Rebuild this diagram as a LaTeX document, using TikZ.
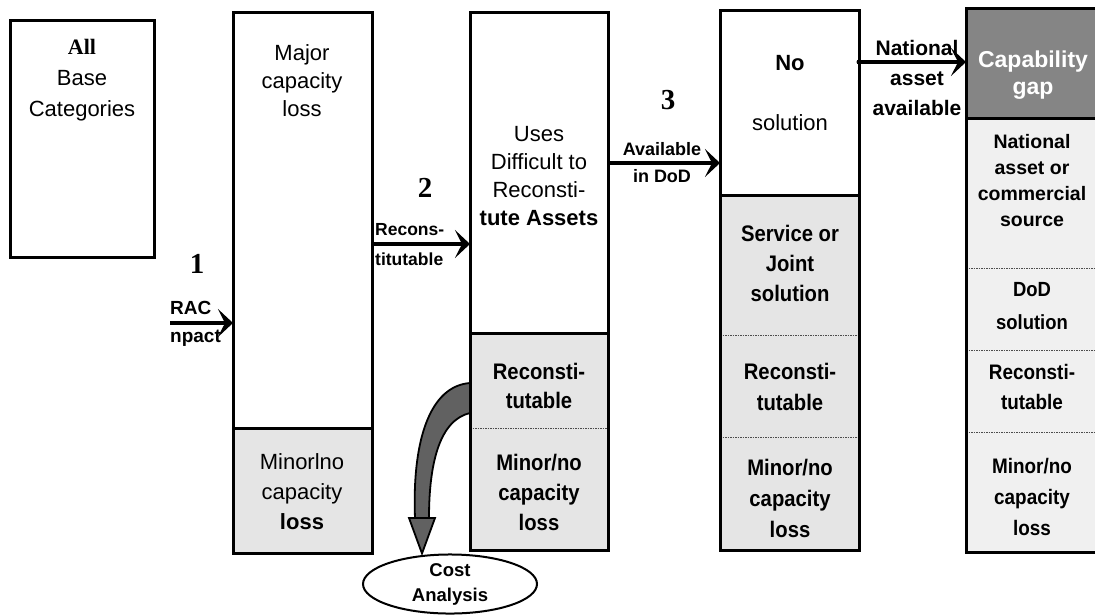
\documentclass[tikz,border=0pt]{standalone}
\usepackage{fontspec}
\setmainfont{Liberation Sans}
\newfontfamily\serifb{Liberation Serif}
\newfontfamily\bnar[FakeStretch=0.9]{Liberation Sans}
\usetikzlibrary{arrows.meta,shapes.geometric}
\newcommand\myfs[2]{\fontsize{#1}{#2}\selectfont}
\definecolor{lightg}{gray}{0.90}
\definecolor{paleg}{gray}{0.94}
\definecolor{darkg}{gray}{0.52}
\tikzset{
  frame/.style={draw=black, line width=3pt, fill=none, inner sep=0pt, outer sep=0pt, anchor=north west},
  sec/.style={draw=none, inner sep=0pt, outer sep=0pt, anchor=north west},
  solidsep/.style={line width=3pt},
  dotsep/.style={line width=1pt, black!70, dash pattern=on 1.5pt off 1pt},
  arr/.style={line width=4pt, -{Stealth[length=15pt,width=28pt,inset=7pt]}},
  reg/.style={font=\myfs{22}{28}, align=center, inner sep=0pt},
  bld/.style={font=\myfs{22.5}{30}\bnar\bfseries, align=center, inner sep=0pt},
  num/.style={font=\myfs{29}{30}\serifb\bfseries, inner sep=0pt},
  lbl/.style={font=\myfs{18}{27}\bfseries, align=center, inner sep=0pt},
}
\begin{document}
\begin{tikzpicture}[x=1pt,y=-1pt]
\useasboundingbox (0,0) rectangle (1095,614);
\clip (0,0) rectangle (1095,614);
\fill[white] (0,0) rectangle (1095,614);

% ---- section fills ----
\node[sec, fill=lightg, minimum width=139pt, minimum height=125pt] (c2b) at (233,428) {};
\node[sec, fill=lightg, minimum width=138pt, minimum height=217pt] (c3b) at (470,333) {};
\node[sec, fill=lightg, minimum width=139pt, minimum height=355pt] (c4b) at (720,195) {};
\node[sec, fill=darkg, minimum width=150pt, minimum height=110pt] (c5a) at (966,8) {};
\node[sec, fill=paleg, minimum width=150pt, minimum height=434pt] (c5b) at (966,118) {};

% ---- dividers ----
\draw[solidsep] (233,428) -- (372,428);
\draw[solidsep] (470,333) -- (608,333);
\draw[dotsep] (470,428) -- (608,428);
\draw[solidsep] (720,195) -- (859,195);
\draw[dotsep] (720,335) -- (859,335);
\draw[dotsep] (720,437) -- (859,437);
\draw[solidsep] (966,118) -- (1116,118);
\draw[dotsep] (966,268) -- (1116,268);
\draw[dotsep] (966,350) -- (1116,350);
\draw[dotsep] (966,432) -- (1116,432);

% ---- column frames ----
\node[frame, minimum width=144pt, minimum height=237pt] (c1) at (10,20) {};
\node[frame, minimum width=139pt, minimum height=541pt] (c2) at (233,12) {};
\node[frame, minimum width=138pt, minimum height=538pt] (c3) at (470,12) {};
\node[frame, minimum width=139pt, minimum height=540pt] (c4) at (720,10) {};
\node[frame, minimum width=150pt, minimum height=544pt] (c5) at (966,8) {};

% ---- column texts ----
\node[reg, font=\myfs{22}{31}] (t1) at (82,80) {{\serifb\bfseries All}\\Base\\Categories};
\node[reg] (t2a) at (302,81) {Major\\capacity\\loss};
\node[reg, font=\myfs{22}{30}] (t2b) at (302,492) {Minorlno\\capacity\\\textbf{loss}};
\node[reg] (t3a) at (539,176) {Uses\\Difficult to\\Reconsti-\\\textbf{tute Assets}};
\node[bld, font=\myfs{22.5}{29}\bnar\bfseries] (t3b) at (539,386) {Reconsti-\\tutable};
\node[bld] (t3c) at (539,492) {Minor/no\\capacity\\loss};
\node[bld, font=\myfs{22}{28}\bfseries] (t4a) at (790,63) {No};
\node[reg] (t4s) at (790,123) {solution};
\node[bld] (t4b) at (790,263) {Service or\\Joint\\solution};
\node[bld, font=\myfs{22.5}{31}\bnar\bfseries] (t4c) at (790,387) {Reconsti-\\tutable};
\node[bld, font=\myfs{22.5}{31}\bnar\bfseries] (t4d) at (790,498) {Minor/no\\capacity\\loss};
\node[bld, font=\myfs{23}{27}\bfseries, text=white] (t5a) at (1033,75) {Capability\\gap};
\node[bld, font=\myfs{19.5}{26}\bfseries] (t5b) at (1032,181) {National\\asset or\\commercial\\source};
\node[bld, font=\myfs{20.5}{33}\bnar\bfseries] (t5c) at (1032,306) {DoD\\solution};
\node[bld, font=\myfs{21}{30}\bnar\bfseries] (t5d) at (1032,387) {Reconsti-\\tutable};
\node[bld, font=\myfs{21}{31}\bnar\bfseries] (t5e) at (1032,497) {Minor/no\\capacity\\loss};

% ---- step numbers ----
\node[num] (n1) at (197,264) {1};
\node[num] (n2) at (425,188) {2};
\node[num] (n3) at (668,100) {3};

% ---- connectors ----
\coordinate (a1s) at (170,323);
\coordinate (a2y) at (0,244);
\coordinate (a3y) at (0,163);
\coordinate (a4y) at (0,62);
\draw[arr] (a1s) -- (c2.west |- a1s);
\draw[arr] (c2.east |- a2y) -- (c3.west |- a2y);
\draw[arr] (c3.east |- a3y) -- (c4.west |- a3y);
\draw[arr] (c4.east |- a4y) -- (c5.west |- a4y);
\fill (c4.east |- a4y) circle (2.5pt);

% ---- connector labels ----
\node[lbl, font=\myfs{19}{28}\bfseries, anchor=west, align=left] (l1) at (170,324) {RAC\\npact};
\node[lbl, font=\myfs{17.5}{30}\bfseries, anchor=west, align=left] (l2) at (375,245) {Recons-\\titutable};
\node[lbl] (l3) at (662,163) {Available\\in DoD};
\node[lbl, font=\myfs{21}{30}\bfseries] (l4) at (917,78) {National\\asset\\available};

% ---- cost analysis ----
\node[draw, line width=2pt, ellipse, minimum width=174pt, minimum height=58pt, inner sep=0pt,
      font=\myfs{18.5}{25}\bfseries, align=center] (cost) at (450,584) {Cost\\Analysis};
\filldraw[fill=black!62, draw=black, line width=1.8pt]
  (c3.west |- 0,383) .. controls (430,386) and (412,440) .. (415,518)
  -- (429,518) .. controls (429,462) and (440,420) .. (c3.west |- 0,413) -- cycle;
\filldraw[fill=black!62, draw=black, line width=1.8pt]
  (409,518) -- (435,518) -- (cost.north -| 422,0) -- cycle;
\end{tikzpicture}
\end{document}
